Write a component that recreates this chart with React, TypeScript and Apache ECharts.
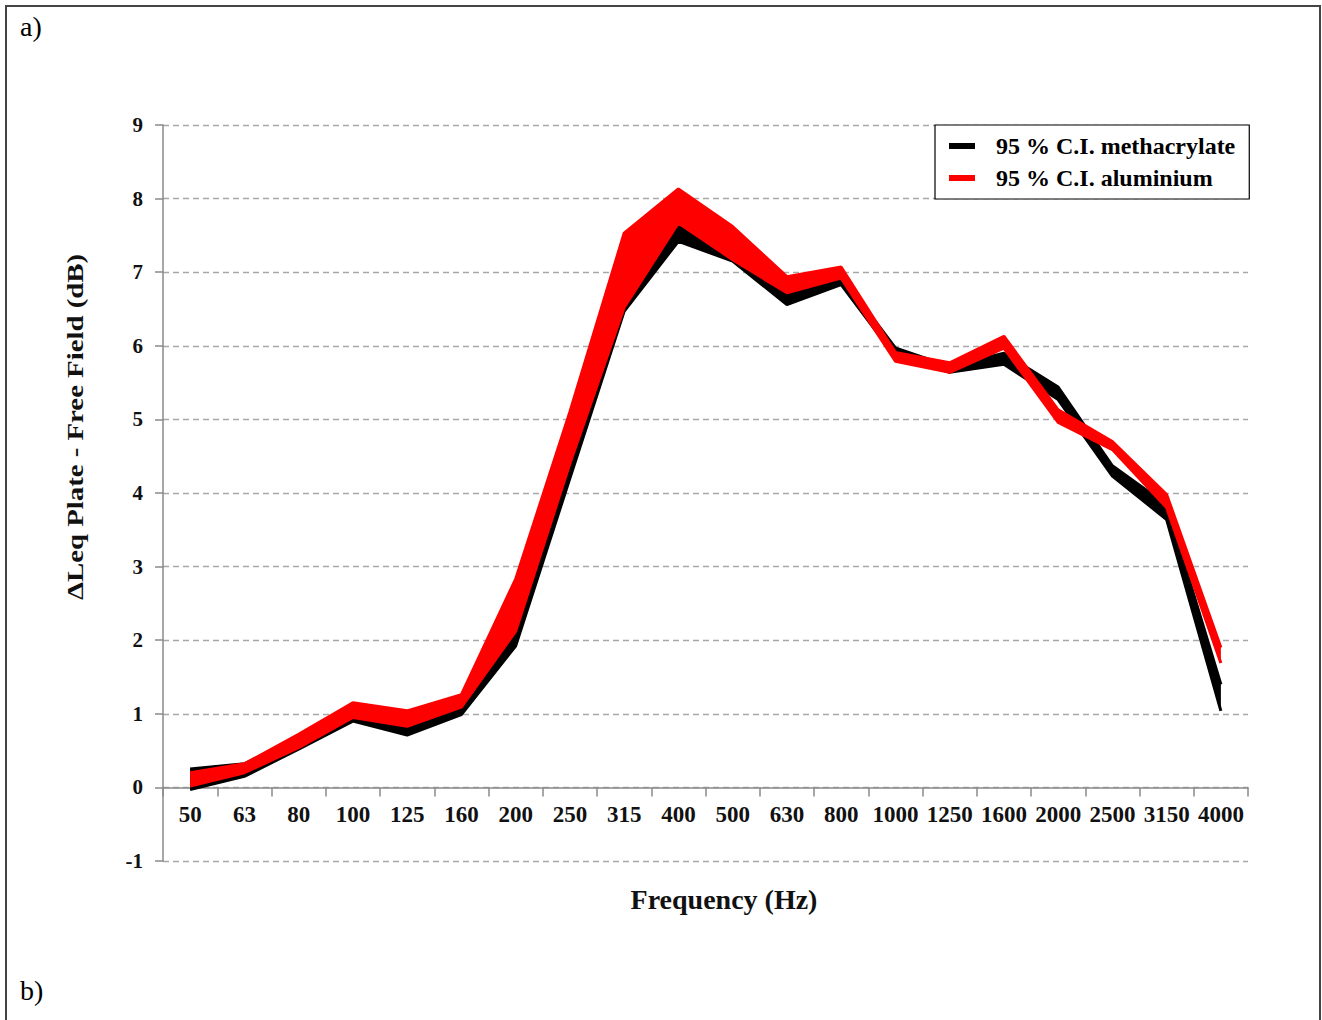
import React, { useEffect, useRef } from "react";
import * as echarts from "echarts";

// One-third octave band centres (Hz)
const frequencies = [
  "50", "63", "80", "100", "125", "160", "200", "250", "315", "400",
  "500", "630", "800", "1000", "1250", "1600", "2000", "2500", "3150", "4000",
];

// 95 % confidence interval limits, methacrylate plate (dB)
const methacrylateLower = [
  -0.03, 0.15, 0.52, 0.9, 0.71, 0.99, 1.92, 4.2, 6.47, 7.42,
  7.15, 6.56, 6.83, 5.85, 5.64, 5.75, 5.27, 4.23, 3.64, 1.04,
];
const methacrylateUpper = [
  0.25, 0.32, 0.68, 1.08, 0.95, 1.2, 2.6, 4.9, 7.0, 7.7,
  7.3, 6.8, 6.95, 5.97, 5.72, 5.9, 5.44, 4.37, 3.84, 1.4,
];

// 95 % confidence interval limits, aluminium plate (dB)
const aluminiumLower = [
  0.02, 0.2, 0.54, 0.95, 0.83, 1.09, 2.12, 4.4, 6.52, 7.67,
  7.17, 6.72, 6.92, 5.79, 5.64, 5.97, 4.96, 4.59, 3.8, 1.69,
];
const aluminiumUpper = [
  0.2, 0.32, 0.72, 1.15, 1.04, 1.26, 2.83, 5.1, 7.53, 8.13,
  7.62, 6.94, 7.07, 5.91, 5.77, 6.13, 5.13, 4.7, 3.98, 1.9,
];

const Y_MIN = -1;
const Y_MAX = 9;

const GRID_TOP = 125;
const GRID_BOTTOM = 159;
const CHART_H = 1020;
const PLOT_H = CHART_H - GRID_TOP - GRID_BOTTOM;
// shift the category axis up so it sits on the 0 dB line
const X_AXIS_OFFSET = -(PLOT_H * (0 - Y_MIN)) / (Y_MAX - Y_MIN);

const SERIF = "'Liberation Serif', 'Times New Roman', serif";
const METH_NAME = "95 % C.I. methacrylate";
const ALU_NAME = "95 % C.I. aluminium";

// A band is drawn as a lower edge plus a stacked width series filled down to it
function band(name: string, stackId: string, color: string, z: number, lower: number[], upper: number[]) {
  const width = upper.map((v, i) => v - lower[i]);
  return [
    {
      name: name + " lower",
      type: "line",
      stack: stackId,
      stackStrategy: "all",
      data: lower,
      z,
      symbol: "none",
      silent: true,
      lineStyle: { color, width: 3 },
      itemStyle: { color },
    },
    {
      name,
      type: "line",
      stack: stackId,
      stackStrategy: "all",
      data: width,
      z,
      symbol: "none",
      silent: true,
      lineStyle: { color, width: 3 },
      itemStyle: { color },
      areaStyle: { color, opacity: 1 },
    },
  ];
}

export default function App() {
  const ref = useRef<HTMLDivElement>(null);

  useEffect(() => {
    if (!ref.current) return;
    const chart = echarts.init(ref.current, null, { renderer: "svg" });

    chart.setOption({
      animation: false,
      backgroundColor: "#ffffff",
      grid: { left: 163, right: 74, top: GRID_TOP, bottom: GRID_BOTTOM },
      legend: {
        data: [METH_NAME, ALU_NAME],
        orient: "vertical",
        left: 935,
        top: 125,
        padding: [9, 14, 9, 14],
        itemGap: 8,
        itemWidth: 26,
        itemHeight: 6,
        icon: "rect",
        borderColor: "#000",
        borderWidth: 1.2,
        backgroundColor: "#fff",
        selectedMode: false,
        z: 10,
        textStyle: {
          fontFamily: SERIF,
          fontSize: 24,
          fontWeight: "bold",
          color: "#000",
          padding: [0, 0, 0, 16],
        },
      },
      xAxis: {
        type: "category",
        data: frequencies,
        boundaryGap: true,
        position: "bottom",
        offset: X_AXIS_OFFSET,
        axisLine: { onZero: false, lineStyle: { color: "#8a8a8a", width: 1.5 } },
        axisTick: { show: true, length: 9, lineStyle: { color: "#8a8a8a", width: 1.5 } },
        axisLabel: {
          interval: 0,
          margin: 16,
          fontFamily: SERIF,
          fontSize: 23,
          fontWeight: "bold",
          color: "#111",
        },
        splitLine: { show: false },
      },
      yAxis: {
        type: "value",
        min: Y_MIN,
        max: Y_MAX,
        interval: 1,
        axisLine: { show: true, lineStyle: { color: "#8a8a8a", width: 1.5 } },
        axisTick: { show: true, length: 8, lineStyle: { color: "#8a8a8a", width: 1.5 } },
        axisLabel: {
          margin: 20,
          fontFamily: SERIF,
          fontSize: 21,
          fontWeight: "bold",
          color: "#111",
        },
        splitLine: { lineStyle: { color: "#a8a8a8", width: 1.4, type: [6, 4] } },
      },
      series: [
        ...band(METH_NAME, "meth", "#000000", 2, methacrylateLower, methacrylateUpper),
        ...band(ALU_NAME, "alu", "#ff0000", 3, aluminiumLower, aluminiumUpper),
      ],
      graphic: [
        {
          type: "rect",
          silent: true,
          shape: { x: 6, y: 6, width: 1314, height: 1030 },
          style: { fill: "none", stroke: "#444", lineWidth: 2 },
        },
        {
          type: "text",
          x: 20,
          y: 12,
          style: { text: "a)", font: `28px ${SERIF}`, fill: "#000" },
        },
        {
          type: "text",
          x: 20,
          y: 976,
          style: { text: "b)", font: `28px ${SERIF}`, fill: "#000" },
        },
        {
          type: "text",
          x: 75,
          y: 427,
          rotation: Math.PI / 2,
          scaleX: 1.2,
          style: {
            text: "ΔLeq Plate - Free Field (dB)",
            font: `bold 24px ${SERIF}`,
            fill: "#111",
            align: "center",
            verticalAlign: "middle",
          },
        },
        {
          type: "text",
          x: 724,
          y: 899,
          style: {
            text: "Frequency (Hz)",
            font: `bold 28px ${SERIF}`,
            fill: "#111",
            align: "center",
            verticalAlign: "middle",
          },
        },
      ],
    });

    return () => chart.dispose();
  }, []);

  return (
    <div
      ref={ref}
      style={{ position: "absolute", left: 0, top: 0, width: 1322, height: CHART_H }}
    />
  );
}
